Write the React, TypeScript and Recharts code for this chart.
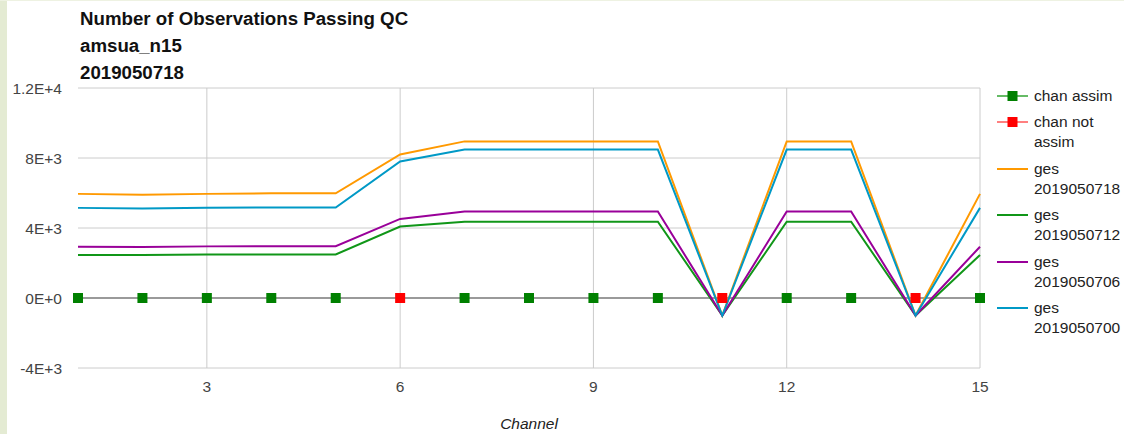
import React from 'react';
import { LineChart, Line, XAxis, YAxis, CartesianGrid, ReferenceLine } from 'recharts';

const channels = [1, 2, 3, 4, 5, 6, 7, 8, 9, 10, 11, 12, 13, 14, 15];
const chanAssim = [0, 0, 0, 0, 0, null, 0, 0, 0, 0, null, 0, 0, null, 0];
const chanNotAssim = [null, null, null, null, null, 0, null, null, null, null, 0, null, null, 0, null];
const ges18 = [5950, 5900, 5950, 5980, 5980, 8200, 8950, 8950, 8950, 8950, -1000, 8950, 8950, -1000, 5950];
const ges12 = [2460, 2460, 2480, 2490, 2490, 4080, 4360, 4360, 4360, 4360, -1000, 4360, 4360, -1000, 2460];
const ges06 = [2930, 2910, 2950, 2960, 2960, 4520, 4940, 4940, 4940, 4940, -1000, 4940, 4940, -1000, 2930];
const ges00 = [5150, 5110, 5160, 5170, 5170, 7800, 8480, 8480, 8480, 8480, -1000, 8480, 8480, -1000, 5150];
const yTicks = [-4000, 0, 4000, 8000, 12000];
const xTicks = [3, 6, 9, 12, 15];
const titleLines = ['Number of Observations Passing QC', 'amsua_n15', '2019050718'];

const data = channels.map((c, i) => ({
  channel: c,
  assim: chanAssim[i],
  notAssim: chanNotAssim[i],
  g18: ges18[i],
  g12: ges12[i],
  g06: ges06[i],
  g00: ges00[i],
}));

const FONT = '"Liberation Sans", Arial, sans-serif';

const fmtY = (v: number) => {
  if (v === 0) return '0E+0';
  const e = Math.floor(Math.log10(Math.abs(v)));
  const m = v / Math.pow(10, e);
  const ms = Number.isInteger(m) ? String(m) : String(Number(m.toFixed(2)));
  return `${ms}E+${e}`;
};

const squareDot = (color: string) => (props: any) => {
  const { cx, cy, value, index } = props;
  if (cx == null || cy == null || value == null || Number.isNaN(cy)) return <g key={`d${index}`} />;
  return <rect key={`d${index}`} x={cx - 5} y={cy - 5} width={10} height={10} fill={color} />;
};

const legendItems = [
  { lines: ['chan assim'], color: '#008000', marker: true, lineColor: '#66bb66' },
  { lines: ['chan not', 'assim'], color: '#ff0000', marker: true, lineColor: '#ff8080' },
  { lines: ['ges', '2019050718'], color: '#ff9900', marker: false, lineColor: '#ff9900' },
  { lines: ['ges', '2019050712'], color: '#109618', marker: false, lineColor: '#109618' },
  { lines: ['ges', '2019050706'], color: '#990099', marker: false, lineColor: '#990099' },
  { lines: ['ges', '2019050700'], color: '#0099c6', marker: false, lineColor: '#0099c6' },
];
const legendTops = [96, 122, 169, 215, 262, 308];

export default function App() {
  return (
    <div style={{ position: 'absolute', left: 0, top: 0, width: 1124, height: 434, background: '#ffffff', fontFamily: FONT, overflow: 'hidden' }}>
      <div style={{ position: 'absolute', left: 0, top: 0, width: 7, height: 434, background: '#e4ebd3' }} />
      <div style={{ position: 'absolute', left: 0, top: 0, width: 1124, height: 1, background: '#eef2e2' }} />
      {titleLines.map((t, i) => (
        <div key={t} style={{ position: 'absolute', left: 80, top: 4.5 + i * 27, lineHeight: '27px', fontSize: 18.7, fontWeight: 'bold', color: '#111', whiteSpace: 'nowrap' }}>{t}</div>
      ))}
      <div style={{ position: 'absolute', left: 0, top: 0 }}>
        <LineChart width={1124} height={434} data={data} margin={{ top: 88, right: 144, left: 0, bottom: 36 }}>
          <CartesianGrid stroke="#cccccc" strokeWidth={1} vertical={false} />
          <XAxis dataKey="channel" type="number" domain={[1, 15]} ticks={xTicks} axisLine={false} tickLine={false} tickSize={0} tickMargin={13} height={30}
            tick={{ fill: '#444444', fontSize: 15.5, fontFamily: FONT }} />
          <YAxis type="number" domain={[-4000, 12000]} ticks={yTicks} axisLine={false} tickLine={false} tickSize={0} tickMargin={16} width={78}
            tickFormatter={fmtY} tick={{ fill: '#444444', fontSize: 15.5, fontFamily: FONT }} />
          {xTicks.map((t) => (
            <ReferenceLine key={`vx${t}`} x={t} stroke="#cccccc" strokeWidth={1} />
          ))}
          <ReferenceLine y={0} stroke="#808080" strokeWidth={1.5} />
          <Line dataKey="assim" stroke="none" dot={squareDot('#008000')} activeDot={false} isAnimationActive={false} connectNulls={false} />
          <Line dataKey="notAssim" stroke="none" dot={squareDot('#ff0000')} activeDot={false} isAnimationActive={false} connectNulls={false} />
          <Line dataKey="g18" stroke="#ff9900" strokeWidth={2} dot={false} activeDot={false} isAnimationActive={false} />
          <Line dataKey="g12" stroke="#109618" strokeWidth={2} dot={false} activeDot={false} isAnimationActive={false} />
          <Line dataKey="g06" stroke="#990099" strokeWidth={2} dot={false} activeDot={false} isAnimationActive={false} />
          <Line dataKey="g00" stroke="#0099c6" strokeWidth={2} dot={false} activeDot={false} isAnimationActive={false} />
        </LineChart>
      </div>
      <span style={{ position: 'absolute', left: 529, top: 412, transform: 'translateX(-50%)', fontStyle: 'italic', fontSize: 15.5, color: '#222', lineHeight: '24px', whiteSpace: 'nowrap' }}>Channel</span>
      {legendItems.map((it, i) => (
        <div key={i} style={{ position: 'absolute', left: 997, top: legendTops[i] - 10 }}>
          <svg width={31} height={20} style={{ position: 'absolute', left: 0, top: 0 }}>
            <line x1={0} y1={10} x2={31} y2={10} stroke={it.lineColor} strokeWidth={2} />
            {it.marker && <rect x={10.5} y={5} width={10} height={10} fill={it.color} />}
          </svg>
          <div style={{ position: 'absolute', left: 37, top: 0, fontSize: 15.5, lineHeight: '19.5px', color: '#222', whiteSpace: 'nowrap' }}>
            {it.lines.map((l) => <div key={l}>{l}</div>)}
          </div>
        </div>
      ))}
    </div>
  );
}
